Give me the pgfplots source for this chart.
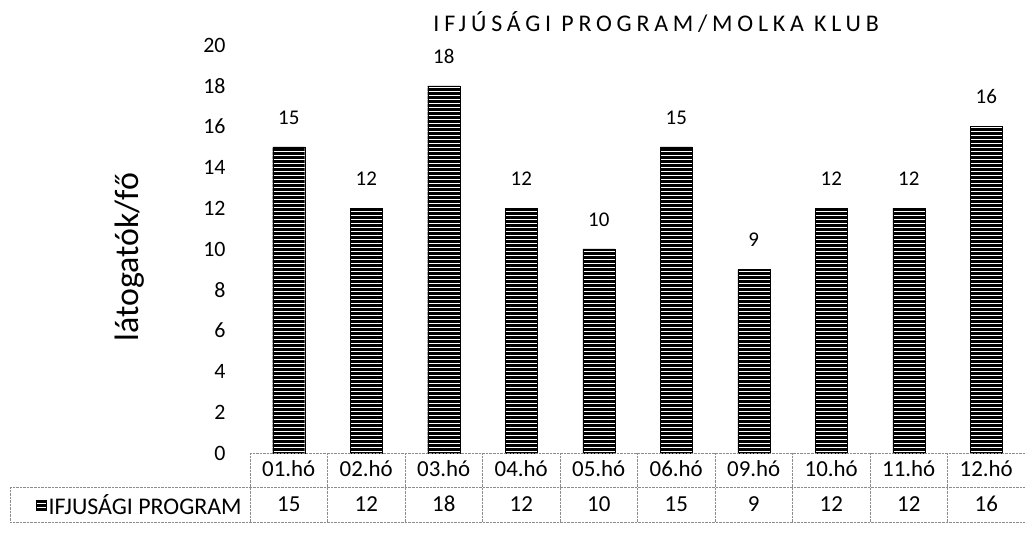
\documentclass[border=0pt]{standalone}
\usepackage{pgfplots}
\pgfplotsset{compat=1.18}
\usetikzlibrary{patterns}
\usepackage{fontspec}
\setmainfont{Carlito}
\newfontfamily\titlefont[LetterSpace=20]{Carlito}
\pgfdeclarepatternformonly{hstripes}{\pgfpoint{-1bp}{-1bp}}{\pgfpoint{5bp}{5bp}}{\pgfpoint{4bp}{4bp}}{%
  \pgfsetlinewidth{1.1bp}%
  \pgfpathmoveto{\pgfpoint{-1bp}{0.5bp}}%
  \pgfpathlineto{\pgfpoint{5bp}{0.5bp}}%
  \pgfusepath{stroke}}
\begin{document}
\begin{tikzpicture}
\useasboundingbox (-250bp,-83bp) rectangle (777bp,453bp);
\begin{axis}[
  scale only axis, width=775bp, height=408bp,
  at={(0,0)}, anchor=south west,
  xmin=-0.5, xmax=9.5, ymin=0, ymax=20,
  ytick={0,2,...,20},
  xtick={0,...,9},
  xticklabels={{01.hó\\15},{02.hó\\12},{03.hó\\18},{04.hó\\12},{05.hó\\10},{06.hó\\15},{09.hó\\9},{10.hó\\12},{11.hó\\12},{12.hó\\16}},
  xticklabel style={align=center, font=\fontsize{23}{35}\selectfont, anchor=north, yshift=-4bp},
  yticklabel style={font=\fontsize{22}{26}\selectfont, xshift=-21bp},
  /pgf/number format/assume math mode=true,
  axis lines*=left, axis line style={draw=none}, tick style={draw=none},
  ylabel={látogatók/fő},
  every axis y label/.style={at={(rel axis cs:-0.155,0.48)}, rotate=90, anchor=center, font=\fontsize{34}{40}\selectfont},
  nodes near coords,
  every node near coord/.append style={font=\fontsize{21}{24}\selectfont, yshift=19bp, black},
  legend style={at={(-0.008,-0.1275)}, anchor=east, draw=none, font=\fontsize{24}{28}\selectfont, inner sep=0pt},
  legend image code/.code={\draw[#1] (0bp,-5bp) rectangle (10bp,5bp);},
  clip=false,
]
\addplot[ybar, bar width=32bp, fill=black, draw=black, postaction={pattern=hstripes, pattern color=white}]
  coordinates {(0,15) (1,12) (2,18) (3,12) (4,10) (5,15) (6,9) (7,12) (8,12) (9,16)};
\addlegendentry{IFJUSÁGI PROGRAM}
\draw[densely dotted, black!45] (rel axis cs:0,0) -- (rel axis cs:1,0);
\draw[densely dotted, black!45] ([xshift=-240bp,yshift=-34bp]rel axis cs:0,0) -- ([yshift=-34bp]rel axis cs:1,0);
\draw[densely dotted, black!45] ([xshift=-240bp,yshift=-69bp]rel axis cs:0,0) -- ([yshift=-69bp]rel axis cs:1,0);
\draw[densely dotted, black!45] ([xshift=-240bp,yshift=-34bp]rel axis cs:0,0) -- ([xshift=-240bp,yshift=-69bp]rel axis cs:0,0);
\pgfplotsinvokeforeach{-0.5,0.5,1.5,2.5,3.5,4.5,5.5,6.5,7.5,8.5}{
  \draw[densely dotted, black!45] (axis cs:#1,0) -- ([yshift=-69bp]axis cs:#1,0);
}
\node[font=\titlefont\fontsize{24}{28}\selectfont, anchor=center] at ([yshift=23bp]rel axis cs:0.524,1) {IFJÚSÁGI PROGRAM/MOLKA KLUB};
\end{axis}
\end{tikzpicture}
\end{document}
